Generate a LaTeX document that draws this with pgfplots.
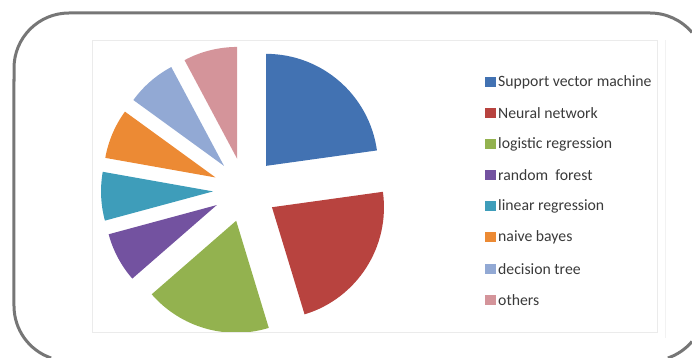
\documentclass[border=0pt]{standalone}
\usepackage{pgfplots}
\usepackage{pgfplotstable}
\pgfplotsset{compat=1.18}
\usepackage{fontspec}
\setmainfont{Carlito}

\definecolor{pc0}{HTML}{4272B2}
\definecolor{pc1}{HTML}{B8433F}
\definecolor{pc2}{HTML}{93B24F}
\definecolor{pc3}{HTML}{7352A0}
\definecolor{pc4}{HTML}{3E9DBA}
\definecolor{pc5}{HTML}{EC8A34}
\definecolor{pc6}{HTML}{92A9D4}
\definecolor{pc7}{HTML}{D4949A}
\definecolor{frame}{HTML}{767676}
\definecolor{txt}{HTML}{3A3A3A}

\pgfplotstableread[col sep=comma]{
idx,value
0,22.8
1,22.5
2,18.3
3,7.2
4,7.0
5,7.2
6,7.2
7,7.8
}\piedata

\begin{document}
\begin{tikzpicture}
% --- compute slice angles from the table ---
\def\total{0}
\pgfplotsforeachungrouped \i in {0,...,7}{%
  \pgfplotstablegetelem{\i}{value}\of\piedata
  \pgfmathsetmacro\tmp{\total+\pgfplotsretval}%
  \xdef\total{\tmp}%
}
\def\cum{0}
\pgfplotsforeachungrouped \i in {0,...,7}{%
  \pgfplotstablegetelem{\i}{value}\of\piedata
  \pgfmathsetmacro\a{90-\cum/\total*360}%
  \pgfmathsetmacro\cumnew{\cum+\pgfplotsretval}%
  \pgfmathsetmacro\b{90-\cumnew/\total*360}%
  \pgfmathsetmacro\m{(\a+\b)/2}%
  \pgfmathsetmacro\vx{245+32*cos(\m)}%
  \pgfmathsetmacro\vy{168+32*sin(\m)}%
  \expandafter\xdef\csname pieA\i\endcsname{\a}%
  \expandafter\xdef\csname pieB\i\endcsname{\b}%
  \expandafter\xdef\csname pieVX\i\endcsname{\vx}%
  \expandafter\xdef\csname pieVY\i\endcsname{\vy}%
  \xdef\cum{\cumnew}%
}
\begin{axis}[at={(0,0)}, anchor=south west,
  width=692bp, height=358bp, scale only axis,
  xmin=0, xmax=692, ymin=0, ymax=358,
  hide axis, clip=false]
\pgfplotsinvokeforeach{0,...,7}{%
  \fill[pc#1] (axis cs:\csname pieVX#1\endcsname,\csname pieVY#1\endcsname)
    -- ++(\csname pieA#1\endcsname:112bp)
    arc[start angle=\csname pieA#1\endcsname, end angle=\csname pieB#1\endcsname, radius=112bp]
    -- cycle;
}
\end{axis}
% outer rounded frame (only the part that lies inside the picture)
\draw[color=frame, line width=3bp]
  (51.09bp,0bp) arc[start angle=251, end angle=180, radius=55bp]
  -- (14bp,290bp) arc[start angle=180, end angle=90, radius=55bp]
  -- (650bp,345bp) arc[start angle=90, end angle=40.2, radius=55bp];
\draw[color=frame, line width=3bp]
  (667.9bp,0bp) arc[start angle=289, end angle=319.8, radius=55bp];
% faint plot-area border
\draw[color=black!8, line width=0.6bp] (92bp,318bp) rectangle (657bp,26bp);
\draw[color=black!5, line width=0.6bp] (665bp,318bp) -- (665bp,20bp);
\foreach \i/\t in {0/Support vector machine,1/Neural network,2/logistic regression,3/random\ \ forest,4/linear regression,5/naive bayes,6/decision tree,7/others}{
  \pgfmathsetmacro\yy{358-82-31.1*\i}
  \fill[pc\i] (485bp,\yy bp-5bp) rectangle (496bp,\yy bp+5bp);
  \node[anchor=west, inner sep=0pt, text=txt, font=\fontsize{15.8}{18}\selectfont] at (498bp,\yy bp) {\t};
}
\pgfresetboundingbox
\useasboundingbox (0,0) rectangle (692bp,358bp);
\end{tikzpicture}
\end{document}
